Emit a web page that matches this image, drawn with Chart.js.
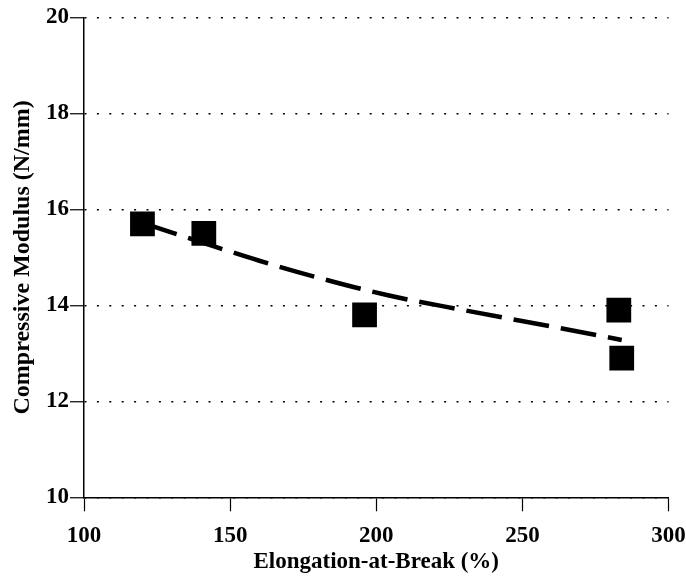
<!DOCTYPE html>
<html>
<head>
<meta charset="utf-8">
<script src="https://cdn.jsdelivr.net/npm/chart.js@4"></script>
<style>
  body { margin: 0; background: #fff; }
  #wrap { width: 686px; height: 578px; }
</style>
</head>
<body>
<div id="wrap"><canvas id="modulusChart" width="686" height="578"></canvas></div>
<script>
// measured samples
const elongation = [120, 141, 196, 283, 284];
const modulus = [15.7, 15.5, 13.8, 13.9, 12.9];

// dashed trend line
const trendX = [120, 141, 160, 180, 204, 230, 260, 284];
const trendY = [15.72, 15.3, 14.93, 14.58, 14.21, 13.9, 13.56, 13.28];

const xTicks = [100, 150, 200, 250, 300];
const yTicks = [10, 12, 14, 16, 18, 20];

const serif = '"Liberation Serif", "Times New Roman", serif';

const ctx = document.getElementById('modulusChart').getContext('2d');
const chart = new Chart(ctx, {
    type: 'scatter',
    data: {
        datasets: [{
            label: 'Samples',
            data: elongation.map((x, i) => ({ x: x, y: modulus[i] })),
            pointStyle: 'rect',
            pointRadius: 17.5,
            pointHoverRadius: 17.5,
            backgroundColor: '#000',
            borderColor: '#000',
            borderWidth: 0,
            order: 1
        }, {
            label: 'Trend',
            type: 'line',
            data: trendX.map((x, i) => ({ x: x, y: trendY[i] })),
            borderColor: '#000',
            borderWidth: 4.5,
            borderDash: [36, 12],
            pointRadius: 0,
            fill: false,
            cubicInterpolationMode: 'monotone',
            order: 2
        }]
    },
    options: {
        responsive: false,
        animation: false,
        layout: { padding: { left: 0, right: 17.3, top: 17.3, bottom: 0 } },
        plugins: {
            legend: { display: false },
            tooltip: { enabled: false }
        },
        scales: {
            x: {
                type: 'linear',
                min: 100,
                max: 300,
                afterBuildTicks: s => { s.ticks = xTicks.map(v => ({ value: v })); },
                // the "300" label is allowed to run to the edge, as in the original
                afterFit: s => { s.height = 80.7; s.paddingLeft = 0; s.paddingRight = 0; },
                grid: {
                    drawOnChartArea: false,
                    tickLength: 14,
                    tickColor: '#000',
                    tickWidth: 1.2
                },
                border: { color: '#000', width: 1.5 },
                ticks: {
                    color: '#000',
                    padding: 11,
                    maxRotation: 0,
                    font: { family: serif, size: 23, weight: 'bold' }
                },
                title: {
                    display: true,
                    text: 'Elongation-at-Break (%)',
                    color: '#000',
                    padding: { top: 0, bottom: 2 },
                    font: { family: serif, size: 23, weight: 'bold' }
                }
            },
            y: {
                type: 'linear',
                min: 10,
                max: 20,
                afterBuildTicks: s => { s.ticks = yTicks.map(v => ({ value: v })); },
                afterFit: s => { s.width = 84; },
                grid: {
                    color: '#000',
                    lineWidth: 1.5,
                    tickLength: 14,
                    tickColor: '#000',
                    tickWidth: 1.2,
                    tickBorderDash: []
                },
                border: { color: '#000', width: 1.5, dash: [2, 10.4] },
                ticks: {
                    color: '#000',
                    padding: 1,
                    font: { family: serif, size: 23, weight: 'bold' }
                },
                title: {
                    display: true,
                    text: 'Compressive Modulus (N/mm)',
                    color: '#000',
                    padding: { top: 8, bottom: 0 },
                    font: { family: serif, size: 24, weight: 'bold' }
                }
            }
        }
    }
});
</script>
</body>
</html>
